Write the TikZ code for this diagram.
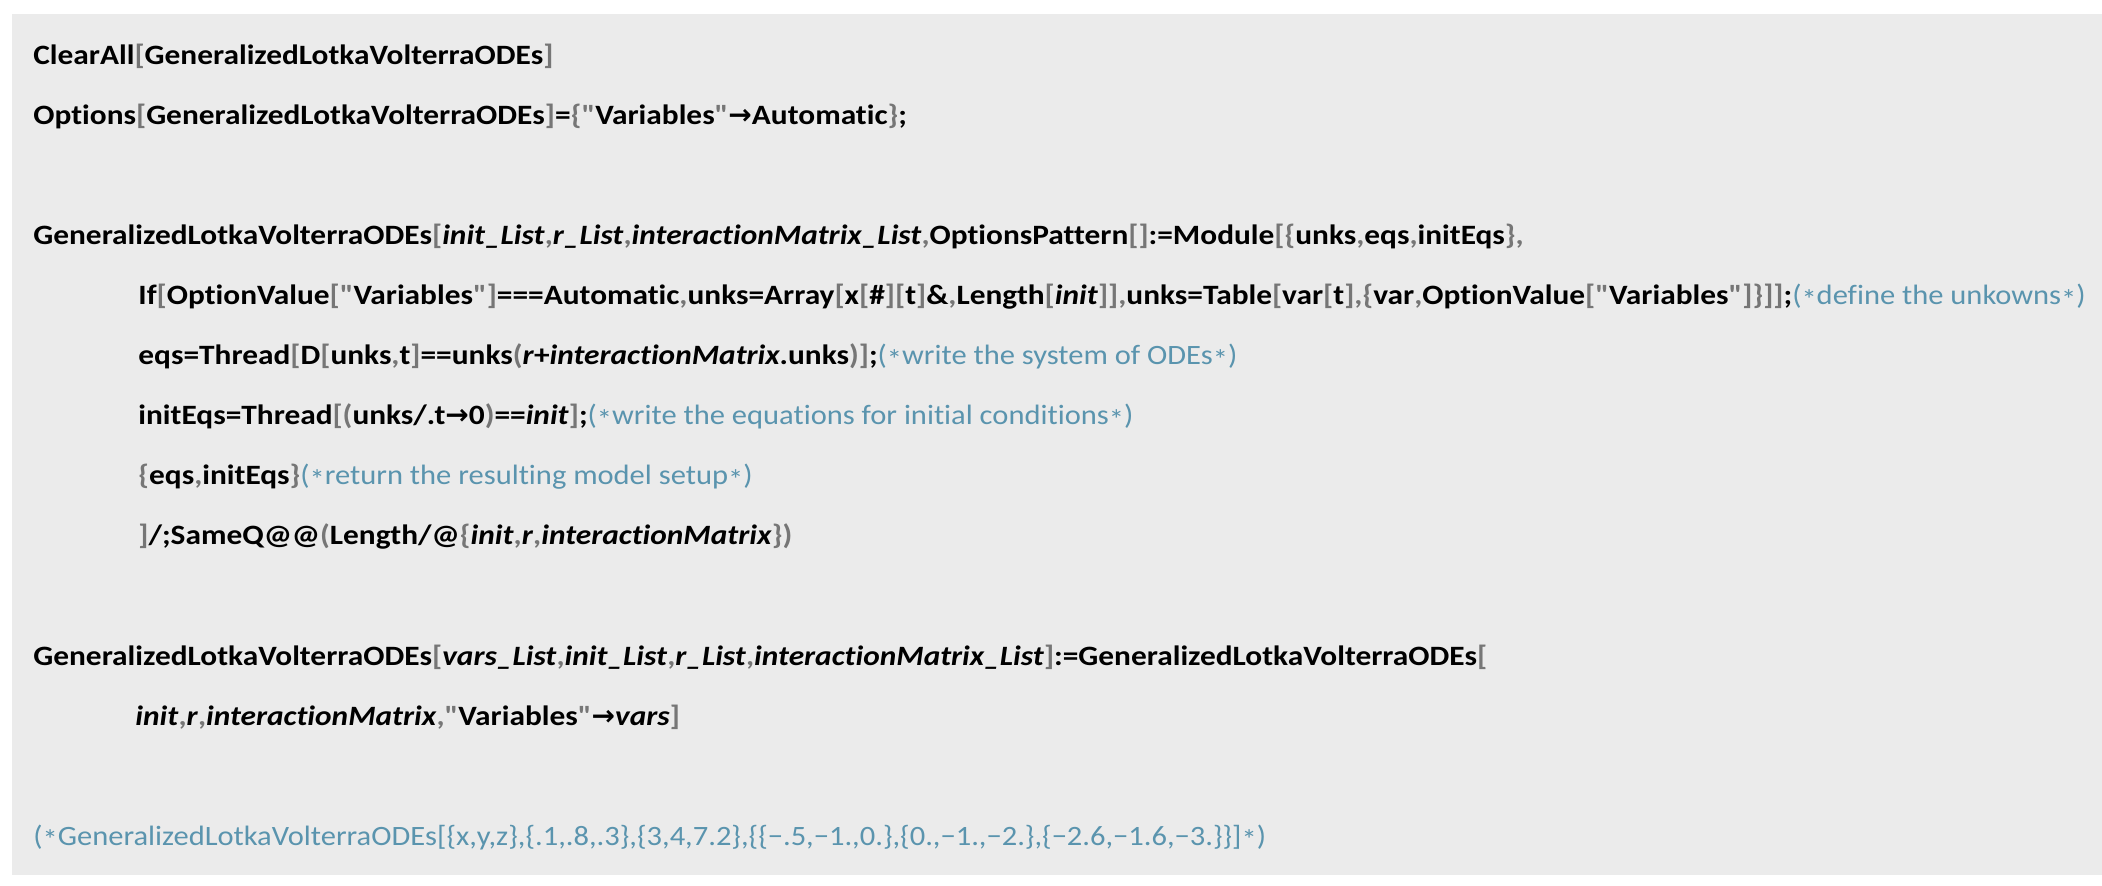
\documentclass[tikz,border=0pt]{standalone}
\usepackage{fontspec}
\setmainfont{Carlito}[Ligatures={TeXOff,CommonOff},
  UprightFeatures={FakeStretch=1.09},
  BoldFeatures={FakeStretch=1.12},
  BoldItalicFeatures={FakeStretch=1.12}]
\newfontfamily\arrowfont{DejaVu Sans}
\definecolor{cellbg}{HTML}{EBEBEB}
\definecolor{brgray}{HTML}{767676}
\definecolor{cmteal}{HTML}{5A94AE}
\newcommand{\br}[1]{\textcolor{brgray}{#1}}
\newcommand{\pv}[1]{\textit{#1}}
\newcommand{\ra}{{\arrowfont\char"2192}}
\newcommand{\cstar}{\raisebox{-0.35ex}{*}}
\newcommand{\cm}[1]{\textcolor{cmteal}{\mdseries #1}}
\begin{document}
\begin{tikzpicture}[x=0.5pt,y=-0.5pt]
\tikzset{code/.style={anchor=base west,inner sep=0pt,font=\fontsize{14}{16}\selectfont\bfseries}}
\useasboundingbox (0,0) rectangle (2102,886);
\fill[cellbg] (12,14) rectangle (2102,875);

\node[code] (clear) at (33,65) {ClearAll\br{[}GeneralizedLotkaVolterraODEs\br{]}};
\node[code] (opts) at (33,125) {Options\br{[}GeneralizedLotkaVolterraODEs\br{]}=\br{\{}\br{"}Variables\br{"}\ra Automatic\br{\}};};

\node[code] (def) at (33,245) {GeneralizedLotkaVolterraODEs\br{[}\pv{init\_List}\br{,}\pv{r\_List}\br{,}\pv{interactionMatrix\_List}\br{,}OptionsPattern\br{[]}:=Module\br{[\{}unks\br{,}eqs\br{,}initEqs\br{\},}};
\node[code] (ifl) at (138,305) {If\br{[}OptionValue\br{[}\br{"}Variables\br{"}\br{]}===Automatic\br{,}unks=Array\br{[}x\br{[}\#\br{][}t\br{]}\&\br{,}Length\br{[}\pv{init}\br{]]}\br{,}unks=Table\br{[}var\br{[}t\br{]}\br{,\{}var\br{,}OptionValue\br{[}\br{"}Variables\br{"}\br{]\}]]};\cm{(\cstar define the unkowns\cstar)}};
\node[code] (eqs) at (138,365) {eqs=Thread\br{[}D\br{[}unks\br{,}t\br{]}==unks\br{(}\pv{r}+\pv{interactionMatrix}.unks\br{)]};\cm{(\cstar write the system of ODEs\cstar)}};
\node[code] (init) at (138,425) {initEqs=Thread\br{[(}unks/.t\ra 0\br{)}==\pv{init}\br{]};\cm{(\cstar write the equations for initial conditions\cstar)}};
\node[code] (ret) at (138,485) {\br{\{}eqs\br{,}initEqs\br{\}}\cm{(\cstar return the resulting model setup\cstar)}};
\node[code] (cond) at (138,545) {\br{]}/;SameQ@@\br{(}Length/@\br{\{}\pv{init}\br{,}\pv{r}\br{,}\pv{interactionMatrix}\br{\})}};

\node[code] (defv) at (33,665) {GeneralizedLotkaVolterraODEs\br{[}\pv{vars\_List}\br{,}\pv{init\_List}\br{,}\pv{r\_List}\br{,}\pv{interactionMatrix\_List}\br{]}:=GeneralizedLotkaVolterraODEs\br{[}};
\node[code] (call) at (135,725) {\pv{init}\br{,}\pv{r}\br{,}\pv{interactionMatrix}\br{,}\br{"}Variables\br{"}\ra\pv{vars}\br{]}};

\node[code] (ex) at (33,845) {\cm{(\cstar GeneralizedLotkaVolterraODEs[\{x,y,z\},\{.1,.8,.3\},\{3,4,7.2\},\{\{−.5,−1.,0.\},\{0.,−1.,−2.\},\{−2.6,−1.6,−3.\}\}]\cstar)}};
\end{tikzpicture}
\end{document}
